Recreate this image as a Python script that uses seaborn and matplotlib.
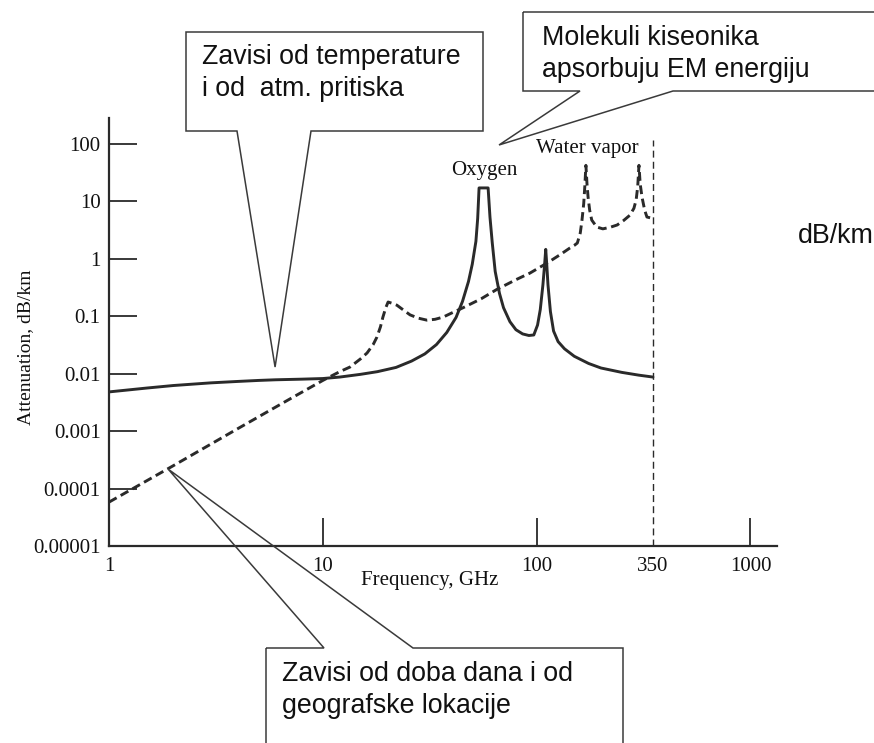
import matplotlib
matplotlib.use("Agg")
import matplotlib.pyplot as plt
from matplotlib.patches import Polygon
from matplotlib.ticker import NullLocator
import pandas as pd
import seaborn as sns

# --- data -----------------------------------------------------------------
# Oxygen absorption (solid curve), frequency in GHz, attenuation in dB/km
freq_o2 = [1, 1.5, 2, 3, 4, 5, 6, 8, 10, 12, 15, 18, 22, 26, 30, 34, 38, 42,
           45, 48, 50, 52, 53, 53.8, 59.3, 60.5, 62, 64, 67, 70, 75, 80, 86,
           92, 97, 101, 104, 107, 109, 110.3, 111.5, 113, 116, 120, 126, 135,
           150, 175, 200, 250, 300, 350]
att_o2 = [0.0048, 0.0056, 0.0062, 0.0069, 0.0073, 0.0076, 0.0078, 0.0080,
          0.0082, 0.0087, 0.0097, 0.0108, 0.0128, 0.0165, 0.022, 0.032, 0.052,
          0.095, 0.18, 0.40, 0.80, 2.0, 5.0, 17, 17, 5.3, 1.9, 0.6, 0.25,
          0.14, 0.08, 0.058, 0.049, 0.046, 0.047, 0.07, 0.13, 0.35, 0.8, 1.45,
          0.8, 0.35, 0.12, 0.055, 0.036, 0.027, 0.020, 0.015, 0.0125, 0.0105,
          0.0094, 0.0087]

# Water vapour absorption (dashed curve)
freq_h2o = [1, 2, 4, 7, 10, 12, 13.4, 15, 16.1, 17.2, 17.9, 18.6, 19.1, 19.7,
            20.2, 21, 22.2, 24, 25.6, 28, 30.7, 33.5, 36.5, 40, 45.3, 55, 65,
            80, 93, 112, 130, 143, 150, 155, 160, 163, 166, 168, 170, 172, 174,
            177, 181, 191, 204, 220, 238, 255, 273, 285, 292, 297, 301, 305,
            311, 320, 328, 350]
att_h2o = [5.8e-5, 2.5e-4, 1.1e-3, 3.6e-3, 7.6e-3, 0.0108, 0.013, 0.018,
           0.0228, 0.032, 0.043, 0.065, 0.096, 0.14, 0.176, 0.168, 0.155,
           0.125, 0.105, 0.092, 0.085, 0.088, 0.096, 0.113, 0.14, 0.2, 0.29,
           0.43, 0.56, 0.84, 1.2, 1.53, 1.7, 1.87, 2.8, 4.7, 9, 18, 42, 20,
           11.8, 7, 4.7, 3.55, 3.3, 3.5, 3.85, 4.6, 5.7, 7.5, 10.5, 18, 42, 20,
           11.8, 7, 5.3, 5.0]

x_ticks = [1, 10, 100, 350, 1000]
x_tick_labels = ["1", "10", "100", "350", "1000"]
y_ticks = [1e-5, 1e-4, 1e-3, 1e-2, 1e-1, 1, 10, 100]
y_tick_labels = ["0.00001", "0.0001", "0.001", "0.01", "0.1", "1", "10", "100"]

cutoff_ghz = 350

df_o2 = pd.DataFrame({"freq": freq_o2, "att": att_o2})
df_h2o = pd.DataFrame({"freq": freq_h2o, "att": att_h2o})

# --- styling ----------------------------------------------------------------
sns.set_theme(style="white")
plt.rcParams["font.family"] = ["Liberation Serif", "DejaVu Serif"]
INK = "#2a2a2a"
SANS = ["Liberation Sans", "DejaVu Sans"]

W, H = 874, 743
fig = plt.figure(figsize=(W / 100, H / 100), dpi=100)
fig.patch.set_facecolor("white")
ax = fig.add_axes([109 / W, (H - 546) / H, 668 / W, 428 / H])
ax.set_facecolor("white")
ax.set_xscale("log")
ax.set_yscale("log")

sns.lineplot(data=df_o2, x="freq", y="att", ax=ax, color=INK, lw=2.1,
             estimator=None, sort=False)
sns.lineplot(data=df_h2o, x="freq", y="att", ax=ax, color=INK, lw=2.1,
             ls=(0, (3, 1.6)), estimator=None, sort=False)

ax.set_xlim(1, 1331)
ax.set_ylim(1e-5, 280)

# thin dashed marker at the upper frequency of interest
ax.axvline(cutoff_ghz, ymin=0, ymax=0.949, color=INK, lw=1.0,
           ls=(0, (5, 3)))

ax.set_xticks(x_ticks)
ax.set_xticklabels(x_tick_labels)
ax.set_yticks(y_ticks)
ax.set_yticklabels(y_tick_labels)
ax.xaxis.set_minor_locator(NullLocator())
ax.yaxis.set_minor_locator(NullLocator())
ax.tick_params(axis="both", which="major", direction="in", length=20,
               width=1.3, color=INK, labelsize=15, labelcolor="#111111",
               bottom=True, left=True, top=False, right=False)
ax.tick_params(axis="x", pad=8)
ax.tick_params(axis="y", pad=6)
for tick, v in zip(ax.xaxis.get_major_ticks(), x_ticks):
    if v in (1, cutoff_ghz):
        tick.tick1line.set_visible(False)
for tick, v in zip(ax.yaxis.get_major_ticks(), y_ticks):
    if v == 1e-5:
        tick.tick1line.set_visible(False)

for side in ("top", "right"):
    ax.spines[side].set_visible(False)
for side in ("left", "bottom"):
    ax.spines[side].set_color(INK)
    ax.spines[side].set_linewidth(1.6)

ax.set_xlabel("Frequency, GHz", fontsize=15, color="#111111")
ax.set_ylabel("Attenuation, dB/km", fontsize=14, color="#111111")
ax.xaxis.set_label_coords(0.4805, -0.058)
ax.yaxis.set_label_coords(-0.112, 0.465)

ax.text(56.7, 33.5, "Oxygen", ha="center", va="center", fontsize=15,
        color="#111111")
ax.text(172, 81, "Water vapor", ha="center", va="center", fontsize=15,
        color="#111111")


# --- callouts ---------------------------------------------------------------
def px(x, y):
    """Image pixel (y downwards) to figure fraction."""
    return (x / W, 1 - y / H)


def data_to_fig(f, v):
    return tuple(fig.transFigure.inverted().transform(
        ax.transData.transform((f, v))))


def callout(left, top, right, bottom, notch, tip, pointer_side):
    tip_xy = data_to_fig(*tip)
    a, b = notch
    if pointer_side == "bottom":
        verts = [px(left, top), px(right, top), px(right, bottom),
                 px(b, bottom), tip_xy, px(a, bottom), px(left, bottom)]
    else:
        verts = [px(left, top), px(a, top), tip_xy, px(b, top),
                 px(right, top), px(right, bottom), px(left, bottom)]
    poly = Polygon(verts, closed=True, facecolor="none", edgecolor="#3a3a3a",
                   lw=1.1, transform=fig.transFigure, zorder=10)
    fig.add_artist(poly)


def note(x, y, s, **kw):
    fig.text(*px(x, y), s, ha="left", va="baseline", fontsize=19.3,
             family=SANS, color="#111111", **kw)


callout(186, 32, 483, 131, (237, 311), (5.98, 0.013), "bottom")
note(202, 64, "Zavisi od temperature")
note(202, 96, "i od  atm. pritiska")

callout(523, 12, 900, 91, (580, 673), (66.7, 95), "bottom")
note(542, 45, "Molekuli kiseonika")
note(542, 77, "apsorbuju EM energiju")

callout(266, 648, 623, 800, (324, 413), (1.89, 2.18e-4), "top")
note(282, 681, "Zavisi od doba dana i od")
note(282, 713, "geografske lokacije")

note(798, 243, "dB/km")

fig.savefig("out.png", dpi=100, facecolor="white")
